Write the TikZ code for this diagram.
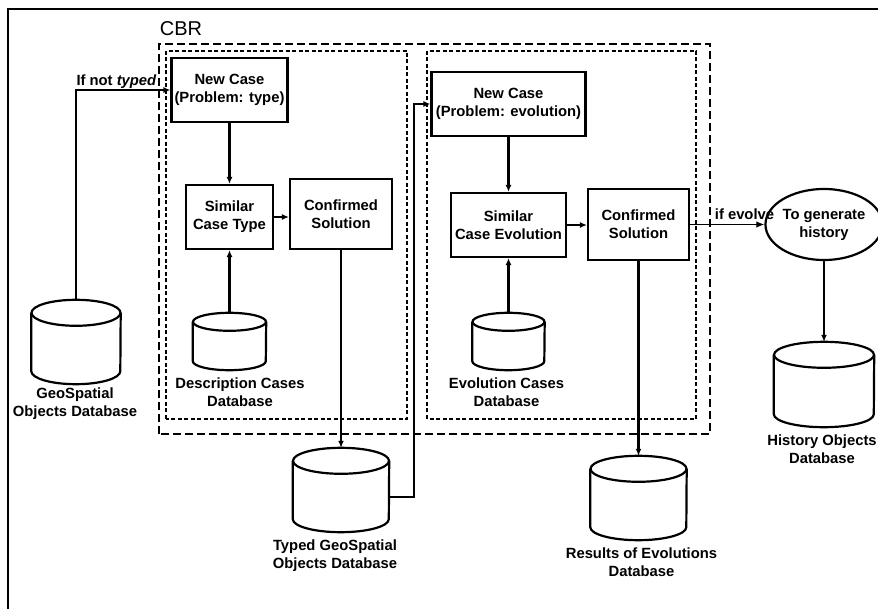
\documentclass[tikz,border=0pt]{standalone}
\usepackage{fontspec}
\setmainfont{Liberation Sans}
\usetikzlibrary{arrows.meta,shapes.geometric}
\newcommand\lbl{\fontsize{14.8}{18}\selectfont\bfseries}
\newcommand\drawdb[3]{%
  \draw[dbline] ([yshift=-#3pt]#1.north west) -- ([yshift=#3pt]#1.south west)
     arc[start angle=180,end angle=360,x radius=#2pt,y radius=#3pt]
     -- ([yshift=-#3pt]#1.north east);
  \draw[dbline] ([yshift=-#3pt]#1.north) ellipse[x radius=#2pt,y radius=#3pt];}
\begin{document}
\begin{tikzpicture}[x=1pt,y=1pt,
  box/.style={draw, line width=2.2pt, inner sep=0pt, align=center, font=\lbl},
  ovalbox/.style={draw, ellipse, line width=2.2pt, inner sep=0pt, align=center, font=\lbl},
  dbnode/.style={draw=none, inner sep=0pt},
  dbline/.style={line width=2.2pt},
  dblabel/.style={align=center, font=\lbl, inner sep=0pt},
  conn/.style={line width=2.2pt, -{Latex[length=7pt,width=6pt]}},
  thinconn/.style={line width=1.2pt, -{Latex[length=8pt,width=6.5pt]}},
  outerdash/.style={line width=1.6pt, dash pattern=on 8pt off 4pt},
  innerdash/.style={line width=1.4pt, dash pattern=on 4pt off 2.5pt},
  frameline/.style={line width=2.5pt}]
\useasboundingbox (0,0) rectangle (878,608);
\fill[white] (0,0) rectangle (878,608);
% frame (only left and top visible)
\draw[frameline] (8,-10) -- (8,599) -- (890,599);
% CBR
\node[font=\fontsize{20}{24}\selectfont, inner sep=0pt] (cbr) at (181,579) {CBR};
\draw[outerdash] (159,174) rectangle (710,564);
\draw[innerdash] (166,189) rectangle (407,557);
\draw[innerdash] (427,189) rectangle (696,557);
% boxes
\node[box, minimum width=116pt, minimum height=64pt] (nc1) at (229.5,518) {New Case\\(Problem: type)};
\node[box, minimum width=87pt, minimum height=64pt] (sct) at (229.5,391) {Similar\\Case Type};
\node[box, minimum width=102pt, minimum height=70pt] (cs1) at (341,394) {Confirmed\\Solution};
\node[box, minimum width=154pt, minimum height=64pt] (nc2) at (508.5,504) {New Case\\(Problem: evolution)};
\node[box, minimum width=115pt, minimum height=64pt] (sce) at (508.5,383) {Similar\\Case Evolution};
\node[box, minimum width=101pt, minimum height=71pt] (cs2) at (638.5,383.5) {Confirmed\\Solution};
\node[ovalbox, minimum width=101pt, minimum height=71pt] (gen) at (824,383.5) {To generate\\history};
% databases
\node[dbnode, minimum width=89pt, minimum height=84pt] (geo) at (76,266) {};
\node[dbnode, minimum width=73pt, minimum height=57pt] (desc) at (229.5,266.5) {};
\node[dbnode, minimum width=72pt, minimum height=57pt] (evo) at (508.5,266.5) {};
\node[dbnode, minimum width=96pt, minimum height=84pt] (typed) at (341,118) {};
\node[dbnode, minimum width=96pt, minimum height=84pt] (res) at (638.5,110) {};
\node[dbnode, minimum width=100pt, minimum height=85pt] (hist) at (824,223.5) {};
\drawdb{geo}{44.5}{13}
\drawdb{desc}{36.5}{9}
\drawdb{evo}{36}{9}
\drawdb{typed}{48}{13}
\drawdb{res}{48}{13}
\drawdb{hist}{50}{13}
% database labels
\node[dblabel] (geolbl) at (75,204) {GeoSpatial\\Objects Database};
\node[dblabel] (desclbl) at (240,215.5) {Description Cases\\Database};
\node[dblabel] (evolbl) at (506.5,215.5) {Evolution Cases\\Database};
\node[dblabel] (typedlbl) at (335,52.5) {Typed GeoSpatial\\Objects Database};
\node[dblabel] (reslbl) at (641.5,45.5) {Results of Evolutions\\Database};
\node[dblabel] (histlbl) at (822,159) {History Objects\\Database};
% connectors
\draw[conn] (geo.north) |- (nc1.west);
\node[font=\lbl, inner sep=0pt, anchor=base] (ifnot) at (116.5,522) {If not \textit{typed}};
\draw[conn] (nc1.south) -- (sct.north);
\draw[conn] (desc.north) -- (sct.south);
\draw[conn] (sct.east) -- (sct.east -| cs1.west);
\draw[conn] (cs1.south) -- (typed.north);
\coordinate (bend) at (414,111);
\draw[conn] ([yshift=-7pt]typed.east) -- (bend) |- (nc2.west);
\draw[conn] (nc2.south) -- (sce.north);
\draw[conn] (evo.north) -- (sce.south);
\draw[conn] (sce.east) -- (sce.east -| cs2.west);
\draw[conn] (cs2.south) -- (res.north);
\draw[thinconn] (cs2.east) -- (gen.west);
\node[font=\lbl, inner sep=0pt] (ifevolve) at (744.5,394) {if evolve};
\draw[conn] (gen.south) -- (hist.north);
\end{tikzpicture}
\end{document}
